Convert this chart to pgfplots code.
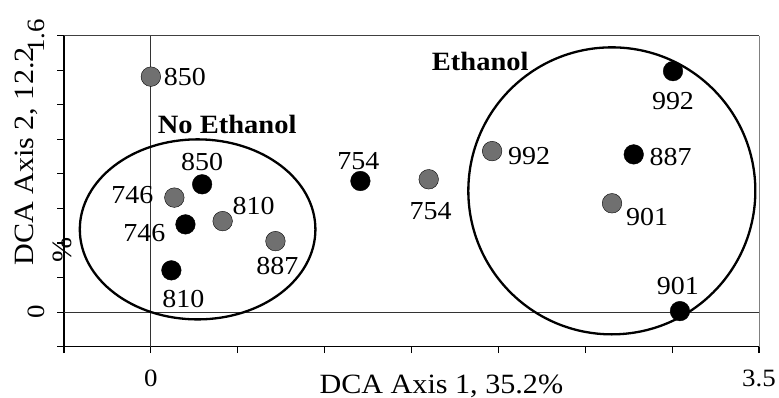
\documentclass[border=0pt]{standalone}
\usepackage{fontspec}
\setmainfont{Liberation Serif}[FakeStretch=1.08]
\usepackage{pgfplots}
\pgfplotsset{compat=1.18}
\usepackage{pgfplotstable}

\definecolor{grayDot}{RGB}{112,112,112}
\newcommand\labfont{\fontsize{26}{30}\selectfont}
\newcommand\tickfont{\fontsize{25}{29}\selectfont}
\newcommand\titlefont{\fontsize{28}{32}\selectfont}
\newcommand\groupfont{\fontsize{26.5}{30}\selectfont\bfseries}

% DCA site scores; dx/dy place each sample label relative to its point (bp)
\pgfplotstableread{
x     y     lab  dx   dy
0.000 1.363 850  34    0
0.135 0.663 746 -42    3
0.413 0.527 810  31   15
0.717 0.411 887   2  -25
1.599 0.769 754   2  -32
1.964 0.932 992  37   -5
2.654 0.630 901  35  -14
}\grayset

\pgfplotstableread{
x     y     lab  dx   dy
0.295 0.740 850   0   22
0.199 0.508 746 -41   -9
0.118 0.242 810  12  -29
1.206 0.759 754  -2   20
3.005 1.395 992   0  -30
2.779 0.913 887  37   -3
3.045 0.006 901  -2   25
}\blackset

\pgfplotsset{
  sitepts/.style={
    only marks, mark=*, mark size=9.8bp,
    mark options={draw=none, fill=#1},
    nodes near coords,
    point meta=explicit symbolic,
    visualization depends on={\thisrow{dx}\as\dx},
    visualization depends on={\thisrow{dy}\as\dy},
    nodes near coords style={anchor=center, inner sep=0pt,
      xshift=\dx bp, yshift=\dy bp, text=black, font=\labfont},
  },
}

\begin{document}
\begin{tikzpicture}
\begin{axis}[
  scale only axis,
  width=695bp, height=311bp,
  xmin=-0.5, xmax=3.5, ymin=-0.2, ymax=1.6,
  clip=false,
  axis x line*=bottom, axis y line*=left,
  axis line style={-, line width=1.3bp, black},
  xtick={-0.5,0,0.5,1,1.5,2,2.5,3,3.5},
  xticklabels={,0,,,,,,,3.5},
  ytick={-0.2,0,0.2,0.4,0.6,0.8,1.0,1.2,1.4,1.6},
  yticklabels={,0,,,,,,,,1.6},
  tick align=outside,
  major tick length=6.5bp,
  tick style={line width=1.1bp, black},
  /pgf/number format/assume math mode=true,
  xticklabel style={anchor=base, yshift=-33.5bp, inner sep=0pt, font=\tickfont},
  yticklabel style={xshift=-13bp, rotate=90, anchor=base, inner sep=0pt, font=\tickfont},
]
  \coordinate (bl) at (axis description cs:0,0);

  % frame on the open sides
  \draw[line width=1.3bp, black!75] (axis description cs:0,1) -- (axis description cs:1,1);
  \draw[line width=0.8bp, black!50] (axis description cs:1,0) -- (axis description cs:1,1);

  % zero reference lines
  \draw[line width=0.9bp, black!80] (axis cs:0,-0.2) -- (axis cs:0,1.6);
  \draw[line width=0.9bp, black!80] (axis cs:-0.5,0) -- (axis cs:3.5,0);

  % group outlines
  \draw[line width=2.3bp, black] (axis cs:0.269,0.479) ellipse [x radius=117.8bp, y radius=90bp];
  \draw[line width=2.3bp, black] (axis cs:2.653,0.702) ellipse [x radius=143.5bp, y radius=143.5bp];

  \addplot[sitepts=grayDot] table[x=x, y=y, meta=lab] {\grayset};
  \addplot[sitepts=black] table[x=x, y=y, meta=lab] {\blackset};

  \node[font=\groupfont, inner sep=0pt] at (axis cs:0.439,1.087) {No Ethanol};
  \node[font=\groupfont, inner sep=0pt] at (axis cs:1.896,1.451) {Ethanol};

  % axis titles
  \node[font=\titlefont, anchor=base, inner sep=0pt]
    at ([yshift=-46.6bp]axis description cs:0.543,0) {DCA Axis 1, 35.2\%};
  \node[font=\titlefont, rotate=90, anchor=base, inner sep=0pt]
    at ([xshift=-30.7bp]axis description cs:0,0.6116) {DCA Axis 2, 12.2};
  \node[font=\titlefont, rotate=90, anchor=base, inner sep=0pt]
    at ([xshift=7.7bp]axis description cs:0,0.311) {\%};
\end{axis}
\pgfresetboundingbox
\path ([xshift=-64bp,yshift=-51.3bp]bl) rectangle ++(779bp,398bp);
\end{tikzpicture}
\end{document}
